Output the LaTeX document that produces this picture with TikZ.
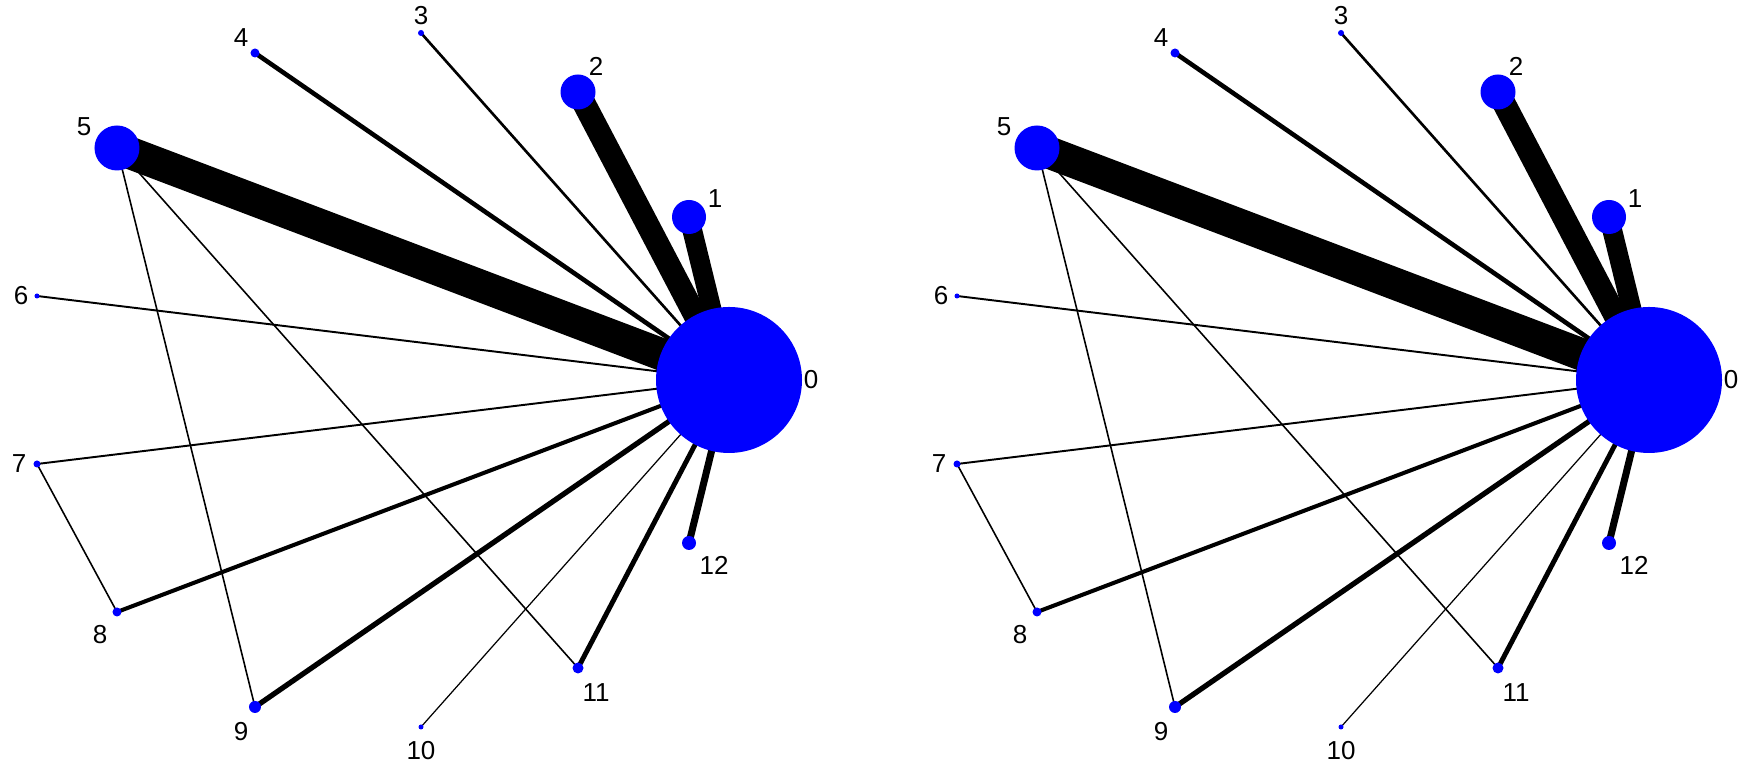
\documentclass[tikz,border=0pt]{standalone}
\usepackage{fontspec}
\setmainfont{Liberation Sans}
\usetikzlibrary{backgrounds}

\begin{document}
\begin{tikzpicture}
	% Stili per i nodi e le etichette della rete
	\tikzset{nodo/.style={circle, fill=blue, inner sep=0pt},
		etic/.style={font=\fontsize{7.4}{8.5}\selectfont, inner sep=0pt}}
	\useasboundingbox (-3.79,-3.95) rectangle (13.65,3.80);
	
	% Due pannelli uguali, affiancati
	\foreach \p/\dx in {a/0, b/9.2}{
	\begin{scope}[xshift=\dx cm, name prefix=\p-]
		% Nodi (su un cerchio di raggio 3.5)
		\node[nodo, minimum size=1.46cm] (n0) at (3.50, 0) {};
		\node[nodo, minimum size=0.34cm] (n1) at (3.10, 1.63) {};
		\node[nodo, minimum size=0.35cm] (n2) at (1.99, 2.88) {};
		\node[nodo, minimum size=0.06cm] (n3) at (0.42, 3.47) {};
		\node[nodo, minimum size=0.09cm] (n4) at (-1.24, 3.27) {};
		\node[nodo, minimum size=0.45cm] (n5) at (-2.62, 2.32) {};
		\node[nodo, minimum size=0.05cm] (n6) at (-3.42, 0.84) {};
		\node[nodo, minimum size=0.07cm] (n7) at (-3.42, -0.84) {};
		\node[nodo, minimum size=0.09cm] (n8) at (-2.62, -2.32) {};
		\node[nodo, minimum size=0.12cm] (n9) at (-1.24, -3.27) {};
		\node[nodo, minimum size=0.05cm] (n10) at (0.42, -3.47) {};
		\node[nodo, minimum size=0.11cm] (n11) at (1.99, -2.88) {};
		\node[nodo, minimum size=0.14cm] (n12) at (3.10, -1.63) {};
		
		% Etichette
		\node[etic] (e0) at (4.32, 0) {0};
		\node[etic] (e1) at (3.36, 1.81) {1};
		\node[etic] (e2) at (2.17, 3.14) {2};
		\node[etic] (e3) at (0.42, 3.64) {3};
		\node[etic] (e4) at (-1.38, 3.42) {4};
		\node[etic] (e5) at (-2.95, 2.53) {5};
		\node[etic] (e6) at (-3.58, 0.84) {6};
		\node[etic] (e7) at (-3.60, -0.84) {7};
		\node[etic] (e8) at (-2.79, -2.55) {8};
		\node[etic] (e9) at (-1.38, -3.52) {9};
		\node[etic] (e10) at (0.42, -3.71) {10};
		\node[etic] (e11) at (2.17, -3.13) {11};
		\node[etic] (e12) at (3.35, -1.85) {12};
		
		% Archi (spessore secondo il numero di confronti)
		\begin{pgfonlayer}{background}
			\draw[line width=5.6pt] (n0.center) -- (n1.center);
			\draw[line width=6.6pt] (n0.center) -- (n2.center);
			\draw[line width=0.75pt] (n0.center) -- (n3.center);
			\draw[line width=1.3pt] (n0.center) -- (n4.center);
			\draw[line width=9.2pt] (n0.center) -- (n5.center);
			\draw[line width=0.55pt] (n0.center) -- (n6.center);
			\draw[line width=0.55pt] (n0.center) -- (n7.center);
			\draw[line width=1.15pt] (n0.center) -- (n8.center);
			\draw[line width=1.5pt] (n0.center) -- (n9.center);
			\draw[line width=0.35pt] (n0.center) -- (n10.center);
			\draw[line width=1.4pt] (n0.center) -- (n11.center);
			\draw[line width=2pt] (n0.center) -- (n12.center);
			\draw[line width=0.45pt] (n5.center) -- (n9.center);
			\draw[line width=0.45pt] (n5.center) -- (n11.center);
			\draw[line width=0.45pt] (n7.center) -- (n8.center);
		\end{pgfonlayer}
	\end{scope}
	}
\end{tikzpicture}
\end{document}
